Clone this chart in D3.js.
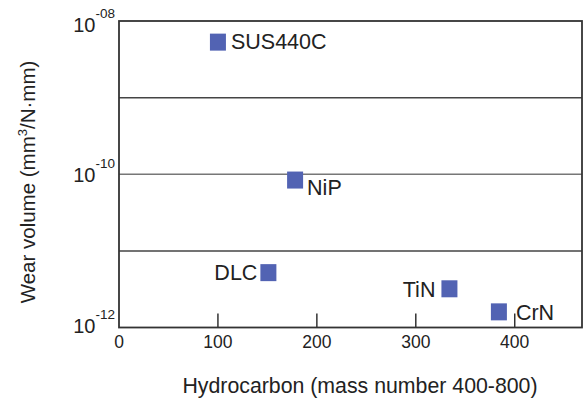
<!DOCTYPE html>
<html>
<head>
<meta charset="utf-8">
<script src="https://cdn.jsdelivr.net/npm/d3@7"></script>
<style>
  html, body { margin: 0; padding: 0; background: #fff; }
  svg { display: block; font-family: "Liberation Sans", Arial, Helvetica, sans-serif; }
</style>
</head>
<body>
<svg id="chart" width="585" height="403"></svg>
<script>
// ---- data ----
const materials = ["SUS440C", "NiP", "DLC", "TiN", "CrN"];
const hydrocarbon = [100, 178, 151, 334, 384];
const wearVolume = [5.3e-9, 8.4e-11, 5.2e-12, 3.2e-12, 1.6e-12];
const xTicks = [0, 100, 200, 300, 400];
const yTickValues = [1e-8, 1e-10, 1e-12];
const yTickExponents = ["-08", "-10", "-12"];
const yGridValues = [1e-9, 1e-10, 1e-11];

// label placement (style, not data)
const labelPlacement = [
  { anchor: "start", dx: 13, dy: 7 },
  { anchor: "start", dx: 12, dy: 15 },
  { anchor: "end", dx: -11, dy: 7 },
  { anchor: "end", dx: -14, dy: 8 },
  { anchor: "start", dx: 17, dy: 8 }
];
const yLabelOffset = [11, 8, 5];

const svg = d3.select("#chart");
const mLeft = 119, mRight = 582, mTop = 21, mBottom = 327.5;

const x = d3.scaleLinear().domain([0, 468]).range([mLeft, mRight]);
const y = d3.scaleLog().domain([1e-12, 1e-8]).range([mBottom, mTop]);

const dark = "#333";

// gridlines
svg.append("g").selectAll("line").data(yGridValues).join("line")
  .attr("x1", mLeft).attr("x2", mRight)
  .attr("y1", d => y(d)).attr("y2", d => y(d))
  .attr("stroke", (d, i) => i === 1 ? "#777" : "#444")
  .attr("stroke-width", 1.5);

// frame
svg.append("rect")
  .attr("x", mLeft).attr("y", mTop)
  .attr("width", mRight - mLeft).attr("height", mBottom - mTop)
  .attr("fill", "none").attr("stroke", dark).attr("stroke-width", 1.8);

// x ticks (inward) and labels
const xAxis = svg.append("g");
xAxis.selectAll("line").data(xTicks.filter(d => d > 0)).join("line")
  .attr("x1", d => x(d)).attr("x2", d => x(d))
  .attr("y1", mBottom).attr("y2", mBottom - 14)
  .attr("stroke", dark).attr("stroke-width", 1.5);
xAxis.selectAll("text").data(xTicks).join("text")
  .attr("x", d => x(d)).attr("y", 348)
  .attr("text-anchor", "middle")
  .attr("font-size", 17.5).attr("fill", "#222")
  .text(d => d);

// y tick labels 10^exp
const yLab = svg.append("g").selectAll("text").data(yTickValues).join("text")
  .attr("x", 115).attr("y", (d, i) => y(d) + yLabelOffset[i])
  .attr("text-anchor", "end").attr("fill", "#222");
yLab.append("tspan").attr("font-size", 20).text("10");
yLab.append("tspan").attr("font-size", 13.5).attr("dy", -14)
  .text((d, i) => yTickExponents[i]);

// points
const color = "#5263b3";
const sz = 16;
svg.append("g").selectAll("rect").data(materials).join("rect")
  .attr("x", (d, i) => x(hydrocarbon[i]) - sz / 2)
  .attr("y", (d, i) => y(wearVolume[i]) - sz / 2 - 0.5)
  .attr("width", sz).attr("height", sz + 1)
  .attr("fill", color);

svg.append("g").selectAll("text").data(materials).join("text")
  .attr("x", (d, i) => x(hydrocarbon[i]) + labelPlacement[i].dx)
  .attr("y", (d, i) => y(wearVolume[i]) + labelPlacement[i].dy)
  .attr("text-anchor", (d, i) => labelPlacement[i].anchor)
  .attr("font-size", 21.5).attr("fill", "#222")
  .text(d => d);

// axis titles
svg.append("text")
  .attr("x", 360).attr("y", 393)
  .attr("text-anchor", "middle")
  .attr("font-size", 21.3).attr("fill", "#222")
  .text("Hydrocarbon (mass number 400-800)");

const yt = svg.append("text")
  .attr("transform", "translate(35,182) rotate(-90)")
  .attr("text-anchor", "middle")
  .attr("font-size", 20.5).attr("fill", "#222");
yt.append("tspan").text("Wear volume (mm");
yt.append("tspan").attr("font-size", 13).attr("dy", -8).text("3");
yt.append("tspan").attr("dy", 8).text("/N\u00b7mm)");
</script>
</body>
</html>
